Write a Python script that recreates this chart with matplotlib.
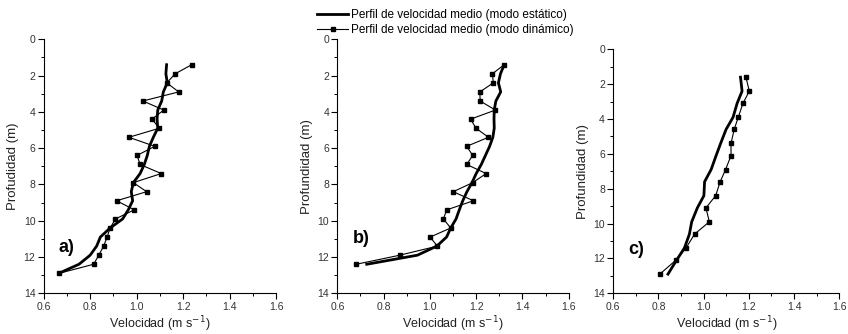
import matplotlib.pyplot as plt
from matplotlib.ticker import MultipleLocator

plt.rcParams['font.family'] = ['Liberation Sans', 'DejaVu Sans']

# panel a)
depth_a = [1.4, 1.9, 2.4, 2.9, 3.4, 3.9, 4.4, 4.9, 5.4, 5.9, 6.4, 6.9,
           7.4, 7.9, 8.4, 8.9, 9.4, 9.9, 10.4, 10.9, 11.4, 11.9, 12.4, 12.9]
static_a = [1.129, 1.126, 1.132, 1.115, 1.108, 1.091, 1.088, 1.091, 1.072, 1.055, 1.046, 1.033,
            1.015, 0.986, 0.977, 0.983, 0.964, 0.940, 0.886, 0.844, 0.828, 0.800, 0.752, 0.665]
dynamic_a = [1.237, 1.166, 1.130, 1.181, 1.027, 1.117, 1.066, 1.098, 0.967, 1.078, 1.002, 1.015,
             1.106, 0.986, 1.043, 0.914, 0.990, 0.909, 0.886, 0.873, 0.858, 0.837, 0.815, 0.666]

# panel b)
depth_b = [1.4, 1.9, 2.4, 2.9, 3.4, 3.9, 4.4, 4.9, 5.4, 5.9, 6.4, 6.9,
           7.4, 7.9, 8.4, 8.9, 9.4, 9.9, 10.4, 10.9, 11.4, 11.9, 12.4]
static_b = [1.321, 1.305, 1.296, 1.306, 1.285, 1.278, 1.277, 1.278, 1.272, 1.258, 1.240, 1.222,
            1.200, 1.182, 1.160, 1.142, 1.127, 1.113, 1.090, 1.072, 1.030, 0.946, 0.727]
dynamic_b = [1.321, 1.270, 1.274, 1.216, 1.217, 1.283, 1.176, 1.199, 1.253, 1.159, 1.185, 1.159,
             1.243, 1.185, 1.101, 1.188, 1.073, 1.058, 1.090, 1.001, 1.032, 0.870, 0.682]

# panel c)
depth_c = [1.6, 2.4, 3.1, 3.9, 4.6, 5.4, 6.1, 6.9, 7.6, 8.4, 9.1, 9.9, 10.6, 11.4, 12.1, 12.9]
static_c = [1.163, 1.170, 1.148, 1.130, 1.099, 1.075, 1.055, 1.033, 1.004, 1.001, 0.972, 0.947,
            0.937, 0.915, 0.880, 0.842]
dynamic_c = [1.187, 1.202, 1.174, 1.153, 1.135, 1.121, 1.121, 1.097, 1.073, 1.053, 1.010, 1.025,
             0.960, 0.922, 0.877, 0.806]

panels = [
    ('a)', 'Profudidad (m)', depth_a, static_a, dynamic_a, [0.0515, 0.1219, 0.274, 0.7604], 11.45),
    ('b)', 'Profundidad (m)', depth_b, static_b, dynamic_b, [0.3978, 0.1219, 0.2729, 0.7604], 11.0),
    ('c)', 'Profundidad (m)', depth_c, static_c, dynamic_c, [0.7232, 0.1219, 0.2665, 0.7305], 11.5),
]

fig = plt.figure(figsize=(8.48, 3.34), dpi=100)
tick_col = '#333333'

for tag, ylab, d, st, dy, rect, tag_y in panels:
    ax = fig.add_axes(rect)
    l1, = ax.plot(st, d, color='black', lw=2.0, solid_joinstyle='round')
    l2, = ax.plot(dy, d, color='black', lw=0.8, marker='s', ms=2.3)
    ax.set_xlim(0.6, 1.6)
    ax.set_ylim(14, 0)
    ax.xaxis.set_major_locator(MultipleLocator(0.2))
    ax.xaxis.set_minor_locator(MultipleLocator(0.1))
    ax.yaxis.set_major_locator(MultipleLocator(2))
    ax.yaxis.set_minor_locator(MultipleLocator(1))
    ax.xaxis.set_major_formatter(plt.FuncFormatter(lambda v, p: f'{v:.1f}'))
    ax.spines['top'].set_visible(False)
    ax.spines['right'].set_visible(False)
    for s in ('left', 'bottom'):
        ax.spines[s].set_linewidth(0.8)
    ax.tick_params(which='major', direction='out', length=4, width=0.8,
                   labelsize=7.5, labelcolor=tick_col, pad=2)
    ax.tick_params(which='minor', direction='out', length=2.5, width=0.7)
    ax.set_xlabel('Velocidad (m s$^{-1}$)', fontsize=9, color='#222222', labelpad=2)
    ax.set_ylabel(ylab, fontsize=9.5, color='#222222', labelpad=3)
    ax.text(0.665, tag_y, tag, fontsize=13, fontweight='bold', va='center', ha='left')

fig.legend([l1, l2],
           ['Perfil de velocidad medio (modo estático)',
            'Perfil de velocidad medio (modo dinámico)'],
           loc='upper left', bbox_to_anchor=(0.366, 0.995), frameon=False,
           fontsize=8.5, handlelength=2.6, handletextpad=0.2, labelspacing=0.3,
           borderaxespad=0.2)

fig.savefig('out.png', dpi=100)
